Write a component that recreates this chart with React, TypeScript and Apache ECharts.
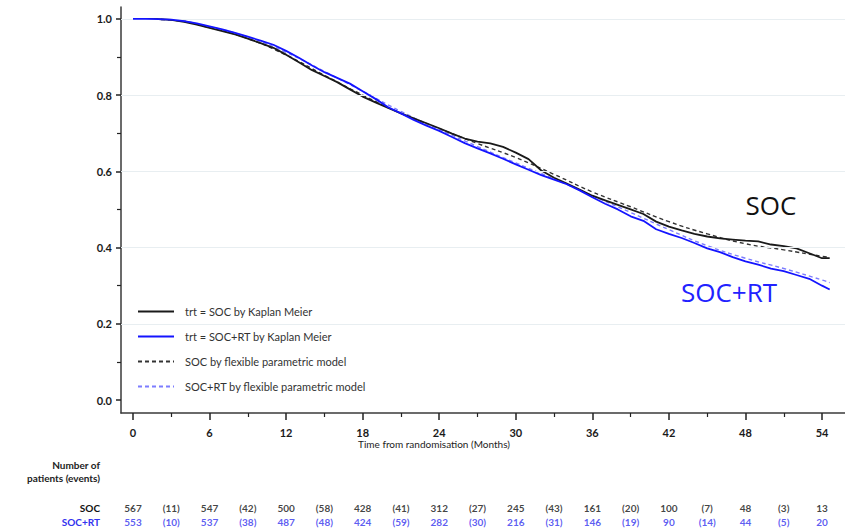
import React, { useEffect, useRef } from "react";
import * as echarts from "echarts";

// ---- data ----
const kmMonths = [
  0, 1, 2, 3, 4, 5, 6, 7, 8, 9, 10, 11, 12, 13, 14, 15, 16, 17, 18, 19, 20, 21, 22, 23, 24, 25, 26, 27,
  28, 29, 30, 31, 32, 33, 34, 35, 36, 37, 38, 39, 40, 41, 42, 43, 44, 45, 46, 47, 48, 49, 50, 51, 52, 53,
  54, 54.6,
];
const socKM = [
  1.0, 1.0, 0.999, 0.997, 0.992, 0.985, 0.976, 0.968, 0.959, 0.948, 0.936, 0.924, 0.906, 0.886, 0.866,
  0.85, 0.834, 0.815, 0.796, 0.781, 0.766, 0.752, 0.739, 0.726, 0.713, 0.699, 0.686, 0.678, 0.673, 0.664,
  0.649, 0.632, 0.602, 0.583, 0.568, 0.552, 0.536, 0.524, 0.512, 0.5, 0.488, 0.468, 0.455, 0.445, 0.436,
  0.429, 0.424, 0.421, 0.418, 0.416, 0.408, 0.404, 0.398, 0.385, 0.372, 0.372,
];
const rtKM = [
  1.0, 1.0, 0.999, 0.998, 0.994, 0.988, 0.98, 0.972, 0.963, 0.953, 0.943, 0.932, 0.916, 0.898, 0.878,
  0.86, 0.845, 0.83, 0.81, 0.79, 0.768, 0.752, 0.735, 0.72, 0.706, 0.69, 0.674, 0.66, 0.647, 0.633, 0.618,
  0.604, 0.59, 0.578, 0.566, 0.55, 0.532, 0.515, 0.5, 0.482, 0.47, 0.448, 0.436, 0.425, 0.412, 0.398,
  0.388, 0.375, 0.364, 0.355, 0.345, 0.338, 0.328, 0.318, 0.3, 0.29,
];
const fitMonths = [0, 3, 6, 9, 12, 15, 18, 21, 24, 27, 30, 33, 36, 39, 42, 45, 48, 51, 54, 54.6];
const socFit = [
  1.0, 0.997, 0.977, 0.948, 0.905, 0.852, 0.8, 0.752, 0.712, 0.673, 0.636, 0.592, 0.546, 0.507, 0.468,
  0.436, 0.41, 0.394, 0.377, 0.374,
];
const rtFit = [
  1.0, 0.997, 0.979, 0.952, 0.912, 0.862, 0.81, 0.757, 0.71, 0.665, 0.622, 0.58, 0.536, 0.492, 0.447,
  0.405, 0.372, 0.345, 0.315, 0.308,
];
const xMajorTicks = [0, 6, 12, 18, 24, 30, 36, 42, 48, 54];
const xMinorTicks = [3, 9, 15, 21, 27, 33, 39, 45, 51];
const yMajorTicks = [0, 0.2, 0.4, 0.6, 0.8, 1.0];
const yMinorTicks = [0.1, 0.3, 0.5, 0.7, 0.9];
const yGridLines = [0.2, 0.4, 0.6, 0.8, 1.0];

const riskMonths = [0, 6, 12, 18, 24, 30, 36, 42, 48, 54];
const eventMonths = [3, 9, 15, 21, 27, 33, 39, 45, 51];
const socAtRisk = [567, 547, 500, 428, 312, 245, 161, 100, 48, 13];
const socEvents = [11, 42, 58, 41, 27, 43, 20, 7, 3];
const rtAtRisk = [553, 537, 487, 424, 282, 216, 146, 90, 44, 20];
const rtEvents = [10, 38, 48, 59, 30, 31, 19, 14, 5];
const riskRows = ["SOC", "SOC+RT"];

const legendNames = [
  "trt = SOC by Kaplan Meier",
  "trt = SOC+RT by Kaplan Meier",
  "SOC by flexible parametric model",
  "SOC+RT by flexible parametric model",
];

const X_MIN = -0.94;
const X_MAX = 55.8;
const Y_MIN = -0.034;
const Y_MAX = 1.031;
const BLACK = "#1a1a1a";
const BLUE = "#1414ff";
const LIGHT_BLUE = "#7d7dff";
const FONT = "Lato";

function rowData(row: string, counts: number[], events: number[]) {
  const out: any[] = [];
  riskMonths.forEach((m, i) => out.push([m, row, String(counts[i])]));
  eventMonths.forEach((m, i) => out.push([m, row, "(" + events[i] + ")"]));
  return out;
}

export default function App() {
  const ref = useRef<HTMLDivElement>(null);
  useEffect(() => {
    const chart = echarts.init(ref.current!, null, { renderer: "svg" });
    const axisLineStyle = { color: "#3a3a3a", width: 1.5 };
    const tickStyle = { color: "#222", width: 1.5 };
    const option: any = {
      animation: false,
      backgroundColor: "#ffffff",
      grid: [
        { left: 121, right: 0, top: 7, bottom: 117 },
        { left: 121, right: 0, top: 501, height: 28 },
      ],
      legend: {
        data: legendNames,
        orient: "vertical",
        left: 132,
        top: 301,
        itemWidth: 36,
        itemHeight: 10,
        itemGap: 14,
        itemStyle: { color: "rgba(0,0,0,0)", borderColor: "rgba(0,0,0,0)", borderWidth: 0 },
        textStyle: { fontFamily: FONT, fontSize: 11, color: "#333", padding: [0, 0, 0, 6] },
        selectedMode: false,
      },
      xAxis: [
        {
          type: "value",
          gridIndex: 0,
          min: X_MIN,
          max: X_MAX,
          position: "bottom",
          axisLine: { show: true, onZero: false, lineStyle: axisLineStyle },
          axisTick: { show: true, customValues: xMajorTicks, length: 7, lineStyle: tickStyle },
          axisLabel: {
            customValues: xMajorTicks,
            margin: 14,
            fontFamily: FONT,
            fontSize: 11,
            fontWeight: "bold",
            color: "#1a1a1a",
          },
          splitLine: { show: false },
        },
        {
          type: "value",
          gridIndex: 0,
          min: X_MIN,
          max: X_MAX,
          position: "bottom",
          axisLine: { show: false, onZero: false },
          axisTick: { show: true, customValues: xMinorTicks, length: 4, lineStyle: { color: "#222", width: 1.2 } },
          axisLabel: { show: false },
          splitLine: { show: false },
        },
        { type: "value", gridIndex: 1, min: X_MIN, max: X_MAX, show: false },
      ],
      yAxis: [
        {
          type: "value",
          gridIndex: 0,
          min: Y_MIN,
          max: Y_MAX,
          position: "left",
          axisLine: { show: true, onZero: false, lineStyle: axisLineStyle },
          axisTick: { show: true, customValues: yMajorTicks, length: 5, lineStyle: tickStyle },
          axisLabel: {
            customValues: yMajorTicks,
            formatter: (v: number) => v.toFixed(1),
            margin: 9,
            fontFamily: FONT,
            fontSize: 11,
            fontWeight: "bold",
            color: "#1a1a1a",
          },
          splitLine: { show: false },
        },
        {
          type: "value",
          gridIndex: 0,
          min: Y_MIN,
          max: Y_MAX,
          position: "left",
          axisLine: { show: false, onZero: false },
          axisTick: { show: true, customValues: yMinorTicks, length: 4, lineStyle: { color: "#222", width: 1.2 } },
          axisLabel: { show: false },
          splitLine: { show: false },
        },
        {
          type: "category",
          gridIndex: 1,
          data: riskRows,
          inverse: true,
          axisLine: { show: false },
          axisTick: { show: false },
          axisLabel: {
            margin: 21,
            fontFamily: FONT,
            fontSize: 10,
            fontWeight: "bold",
            color: (v: string) => (v === "SOC" ? "#111" : "#3333ee"),
          },
        },
      ],
      series: [
        {
          name: "grid",
          type: "line",
          xAxisIndex: 0,
          yAxisIndex: 0,
          data: [],
          z: 1,
          markLine: {
            silent: true,
            symbol: "none",
            label: { show: false },
            lineStyle: { color: "#e8eef1", type: "solid", width: 1.2 },
            data: yGridLines.map((v) => ({ yAxis: v })),
          },
        },
        {
          name: legendNames[2],
          type: "line",
          xAxisIndex: 0,
          yAxisIndex: 0,
          smooth: true,
          symbol: "none",
          z: 3,
          lineStyle: { color: "#333", width: 1.4, type: [4, 3] },
          itemStyle: { color: "#333" },
          data: fitMonths.map((m, i) => [m, socFit[i]]),
        },
        {
          name: legendNames[3],
          type: "line",
          xAxisIndex: 0,
          yAxisIndex: 0,
          smooth: true,
          symbol: "none",
          z: 3,
          lineStyle: { color: LIGHT_BLUE, width: 1.4, type: [4, 3] },
          itemStyle: { color: LIGHT_BLUE },
          data: fitMonths.map((m, i) => [m, rtFit[i]]),
        },
        {
          name: legendNames[0],
          type: "line",
          xAxisIndex: 0,
          yAxisIndex: 0,
          symbol: "none",
          z: 4,
          lineStyle: { color: BLACK, width: 1.8 },
          itemStyle: { color: BLACK },
          data: kmMonths.map((m, i) => [m, socKM[i]]),
        },
        {
          name: legendNames[1],
          type: "line",
          xAxisIndex: 0,
          yAxisIndex: 0,
          symbol: "none",
          z: 5,
          lineStyle: { color: BLUE, width: 1.8 },
          itemStyle: { color: BLUE },
          data: kmMonths.map((m, i) => [m, rtKM[i]]),
        },
        {
          name: "riskSOC",
          type: "scatter",
          xAxisIndex: 2,
          yAxisIndex: 2,
          symbolSize: 0.1,
          itemStyle: { color: "rgba(0,0,0,0)" },
          label: {
            show: true,
            position: "inside",
            formatter: (p: any) => p.value[2],
            fontFamily: FONT,
            fontSize: 10,
            fontWeight: "bold",
            color: "#111",
          },
          data: rowData("SOC", socAtRisk, socEvents),
        },
        {
          name: "riskRT",
          type: "scatter",
          xAxisIndex: 2,
          yAxisIndex: 2,
          symbolSize: 0.1,
          itemStyle: { color: "rgba(0,0,0,0)" },
          label: {
            show: true,
            position: "inside",
            formatter: (p: any) => p.value[2],
            fontFamily: FONT,
            fontSize: 10,
            fontWeight: "bold",
            color: "#3333ee",
          },
          data: rowData("SOC+RT", rtAtRisk, rtEvents),
        },
      ],
      graphic: [
        {
          type: "text",
          x: 434,
          y: 444,
          style: {
            text: "Time from randomisation (Months)",
            align: "center",
            verticalAlign: "middle",
            font: "10px Lato",
            fill: "#222",
          },
        },
        {
          type: "text",
          x: 100,
          y: 465,
          style: { text: "Number of", align: "right", verticalAlign: "middle", font: "bold 10px Lato", fill: "#222" },
        },
        {
          type: "text",
          x: 100,
          y: 478,
          style: {
            text: "patients (events)",
            align: "right",
            verticalAlign: "middle",
            font: "bold 10px Lato",
            fill: "#222",
          },
        },
        {
          type: "text",
          x: 771,
          y: 205,
          style: { text: "SOC", align: "center", verticalAlign: "middle", font: "26px 'Open Sans'", fill: "#111" },
        },
        {
          type: "text",
          x: 729,
          y: 292,
          style: { text: "SOC+RT", align: "center", verticalAlign: "middle", font: "26px 'Open Sans'", fill: "#2222ff" },
        },
      ],
    };
    chart.setOption(option);
    return () => chart.dispose();
  }, []);
  return (
    <div
      ref={ref}
      style={{ position: "fixed", left: 0, top: 0, width: 845, height: 530, background: "#fff" }}
    />
  );
}
